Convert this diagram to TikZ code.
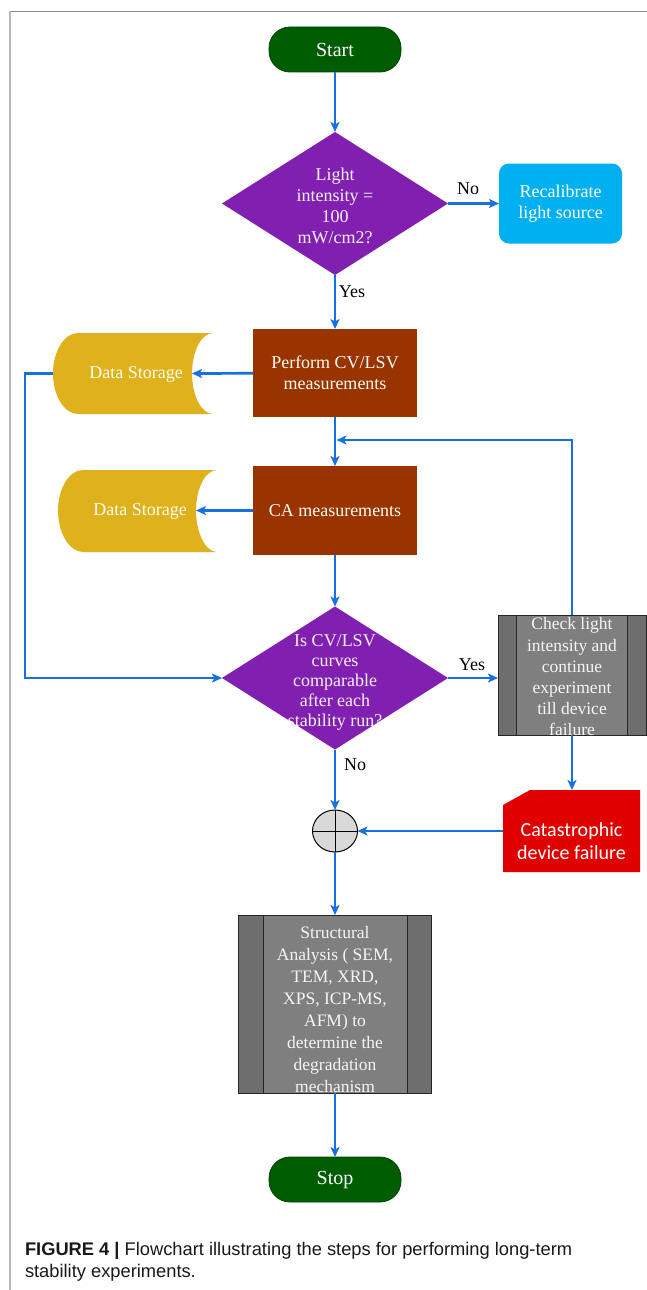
\documentclass[tikz,border=0pt]{standalone}
\usepackage{fontspec}
\setmainfont{Liberation Serif}
\newfontfamily\calfont{Carlito}
\newfontfamily\capfont{Liberation Sans}
\usetikzlibrary{shapes.geometric,arrows.meta,calc}
\definecolor{termgreen}{HTML}{005C00}
\definecolor{decpurple}{HTML}{8120B0}
\definecolor{calcyan}{HTML}{00B0F0}
\definecolor{procbrown}{HTML}{993300}
\definecolor{storgold}{HTML}{DFB21D}
\definecolor{failred}{HTML}{E00000}
\definecolor{predgray}{HTML}{7F7F7F}
\definecolor{predside}{HTML}{6E6E6E}
\definecolor{flowblue}{HTML}{1670E0}
\definecolor{frametop}{HTML}{8A8A8A}
\definecolor{frameleft}{HTML}{B8B8B8}
\definecolor{juncgray}{HTML}{D9D9D9}
\begin{document}
\begin{tikzpicture}[x=1pt,y=-1pt,
  every node/.style={inner sep=0pt, outer sep=0pt},
  serif/.style={font=\fontsize{18}{21}\selectfont, align=center},
  term/.style={rectangle, rounded corners=21pt, fill=termgreen, draw=termgreen!75!black, line width=0.8pt,
    minimum width=132pt, minimum height=45pt, text=white, font=\fontsize{20}{22}\selectfont},
  dec/.style={diamond, fill=decpurple, minimum width=226pt, minimum height=143pt},
  dectext/.style={serif, text=white!94!decpurple},
  recal/.style={rectangle, rounded corners=10pt, fill=calcyan, minimum width=123pt, minimum height=80pt,
    text=white, serif},
  proc/.style={rectangle, fill=procbrown, minimum width=164pt, text=white!95!yellow, serif},
  stortext/.style={serif, text=white!95!yellow},
  pred/.style={rectangle, fill=predgray, draw=black!85, line width=0.9pt},
  predtext/.style={align=center, text=white!92!predgray},
  failbox/.style={rectangle, minimum width=137pt, minimum height=82pt},
  failtext/.style={font=\calfont\fontsize{20}{22.5}\selectfont, align=center, text=white},
  junc/.style={ellipse, fill=juncgray, draw=black, line width=1pt, minimum width=45pt, minimum height=42pt},
  flow/.style={draw=flowblue, line width=2.7pt, -{Stealth[length=10pt,width=9pt,inset=2.5pt]}},
  lbl/.style={font=\fontsize{18}{21}\selectfont, text=black},
  captext/.style={font=\capfont\fontsize{18.3}{22}\selectfont, text=black!90, anchor=base west},
]
\useasboundingbox (0,0) rectangle (647,1290);
\fill[white] (0,0) rectangle (647,1290);

% frame
\draw[frametop, line width=1.6pt] (647,11.5) -- (9.5,11.5);
\draw[frameleft, line width=2pt] (9.5,11.5) -- (9.5,1290);

% nodes
\node[term] (start) at (335,49.5) {Start};
\node[dec] (d1) at (335,203.5) {};
\node[dectext] (d1t) at (335,206) {Light\\intensity =\\100\\mW/cm2?};
\node[recal] (recal) at (560.5,203.5) {Recalibrate\\light source};

\node[proc, minimum height=88pt] (perf) at (335,373) {Perform CV/LSV\\measurements};
\node[proc, minimum height=89pt] (ca) at (335,510.5) {CA measurements};

% data storage 1
\fill[storgold] (213,333) -- (78,333) .. controls (64.2,333) and (53,351.4) .. (53,373.5)
  .. controls (53,395.6) and (64.2,414) .. (78,414) -- (213,414)
  .. controls (201.4,414) and (192,395.6) .. (192,373.5)
  .. controls (192,351.4) and (201.4,333) .. (213,333) -- cycle;
\node[stortext] (ds1) at (136,374) {Data Storage};
\coordinate (ds1w) at (53,373.5);
\coordinate (ds1e) at (192,373.5);

% data storage 2
\fill[storgold] (217,470) -- (83,470) .. controls (69.2,470) and (58,488.4) .. (58,510.5)
  .. controls (58,532.6) and (69.2,552) .. (83,552) -- (217,552)
  .. controls (205.4,552) and (196,532.6) .. (196,510.5)
  .. controls (196,488.4) and (205.4,470) .. (217,470) -- cycle;
\node[stortext] (ds2) at (140,511.5) {Data Storage};
\coordinate (ds2e) at (196,510.5);

\node[dec] (d2) at (335,678) {};
\node[dectext, font=\fontsize{18}{20}\selectfont] (d2t) at (335,682) {Is CV/LSV\\curves\\comparable\\after each\\stability run?};

% check box (predefined process)
\node[pred, minimum width=148pt, minimum height=120pt] (check) at (572,675) {};
\fill[predside] ([xshift=0.45pt,yshift=-0.45pt]check.north west) rectangle ($(check.south west)+(18,-0.45)$);
\fill[predside] ([xshift=-0.45pt,yshift=-0.45pt]check.north east) rectangle ($(check.south east)+(-19,-0.45)$);
\draw[black!85, line width=0.9pt] (check.north west) rectangle (check.south east);
\draw[black!85, line width=0.9pt] ($(check.north west)+(18,0)$) -- ($(check.south west)+(18,0)$);
\draw[black!85, line width=0.9pt] ($(check.north east)+(-19,0)$) -- ($(check.south east)+(-19,0)$);
\node[predtext, font=\fontsize{17.5}{21.2}\selectfont] (checkt) at (572,677) {Check light\\intensity and\\continue\\experiment\\till device\\failure};

% catastrophic failure
\node[failbox] (cat) at (571.5,831) {};
\fill[failred] ($(cat.north west)+(0,15)$) -- ($(cat.north west)+(27,0)$) -- (cat.north east) -- (cat.south east) -- (cat.south west) -- cycle;
\node[failtext] (catt) at (571.5,841) {Catastrophic\\device failure};

% junction
\node[junc] (junc) at (335,831) {};
\draw[black, line width=1pt] (junc.north) -- (junc.south);
\draw[black, line width=1pt] (junc.west) -- (junc.east);

% structural analysis
\node[pred, minimum width=193pt, minimum height=178pt] (struct) at (335,1004) {};
\fill[predside] ([xshift=0.45pt,yshift=-0.45pt]struct.north west) rectangle ($(struct.south west)+(25,-0.45)$);
\fill[predside] ([xshift=-0.45pt,yshift=-0.45pt]struct.north east) rectangle ($(struct.south east)+(-24,-0.45)$);
\draw[black!85, line width=0.9pt] (struct.north west) rectangle (struct.south east);
\draw[black!85, line width=0.9pt] ($(struct.north west)+(25,0)$) -- ($(struct.south west)+(25,0)$);
\draw[black!85, line width=0.9pt] ($(struct.north east)+(-24,0)$) -- ($(struct.south east)+(-24,0)$);
\node[predtext, font=\fontsize{17.5}{22}\selectfont] (structt) at (335,1010) {Structural\\Analysis ( SEM,\\TEM, XRD,\\XPS, ICP-MS,\\AFM) to\\determine the\\degradation\\mechanism};

\node[term] (stop) at (335,1179.5) {Stop};

% connectors
\draw[flow] (start) -- (d1);
\draw[flow] (d1) -- (recal);
\draw[flow] (d1) -- (perf);
\draw[flow] (perf) -- (ds1e);
\coordinate (leftrail) at (25,373.5);
\draw[flow, line join=miter] (ds1w) -- (leftrail) |- (d2.west);
\draw[flow] (perf) -- (ca);
\draw[flow] (ca) -- (ds2e);
\draw[flow] (ca) -- (d2);
\draw[flow] (d2.east) -- (d2.east -| check.west);
\coordinate (loopjoin) at (336.5,440);
\draw[flow, line join=miter] (check.north) -- (check.north |- loopjoin) -- (loopjoin);
\draw[flow] (check.south) -- (check.south |- cat.north);
\draw[flow] (d2) -- (junc);
\draw[flow] (cat) -- (junc);
\draw[flow] (junc) -- (struct);
\draw[flow] (struct) -- (stop);

% labels
\node[lbl] (no1) at (468,189) {No};
\node[lbl] (yes1) at (352,292) {Yes};
\node[lbl] (yes2) at (472,665) {Yes};
\node[lbl] (no2) at (355,765) {No};

% caption
\node[captext] (cap1) at (25,1255) {\textbf{FIGURE 4 |} Flowchart illustrating the steps for performing long-term};
\node[captext] (cap2) at (25,1277) {stability experiments.};
\end{tikzpicture}
\end{document}
